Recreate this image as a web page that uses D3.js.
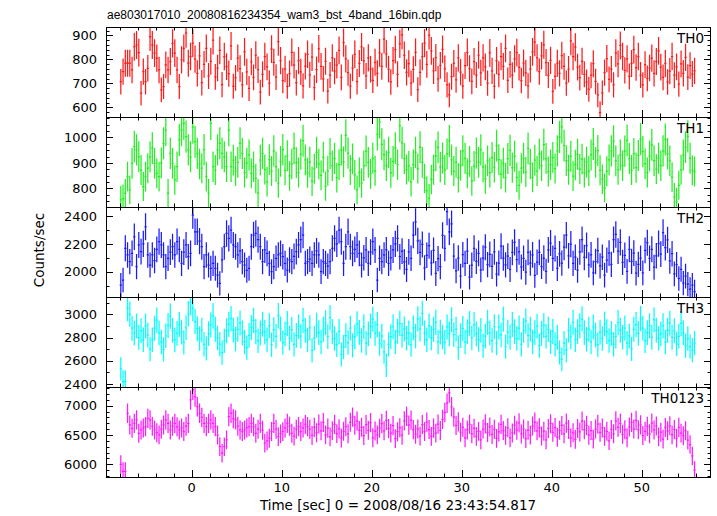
<!DOCTYPE html>
<html><head><meta charset="utf-8">
<script src="https://cdn.jsdelivr.net/npm/d3@7"></script>
<style>
html,body{margin:0;padding:0;background:#fff;}
svg{display:block;}
text{font-family:"DejaVu Sans",sans-serif;fill:#000;}
</style></head>
<body>
<svg id="chart" width="717" height="516"></svg>
<script>
// ---- data (count rate per 0.25 s bin, starting at t = -8 s) ----
const startTime = -8;
const binSize = 0.25;
const xTickLabels = [0, 10, 20, 30, 40, 50];
const panelNames = ["TH0", "TH1", "TH2", "TH3", "TH0123"];

const th0 = [
707,749,784,784,784,756,853,860,828,659,749,707,763,895,860,826,
805,756,673,687,777,756,791,867,826,756,687,798,846,909,784,812,
868,801,742,815,703,779,846,731,792,880,727,764,838,695,812,770,
741,856,688,723,805,762,694,831,748,679,790,725,818,757,664,738,
812,769,701,843,788,726,874,795,712,760,688,741,829,776,703,795,
748,690,772,821,736,809,682,757,844,771,719,792,668,735,806,751,
776,838,725,870,802,745,689,764,821,707,783,852,794,731,806,759,
713,788,742,827,771,884,823,760,706,795,841,738,865,902,817,746,
782,701,758,829,674,746,812,868,779,901,836,752,807,719,775,842,
761,694,652,728,783,715,806,747,689,774,829,762,708,791,735,818,
744,806,769,701,827,752,688,795,738,812,771,846,713,779,734,802,
828,767,712,785,744,690,759,831,872,806,749,815,861,787,735,796,
667,729,784,742,816,771,701,759,877,812,851,768,724,792,738,705,
676,734,782,708,652,578,661,745,803,717,759,694,826,781,858,812,
754,802,729,783,841,766,812,735,694,778,721,764,805,742,791,836,
768,725,783,706,751,812,734,769,697,781,742,808,726,774,739,752];

const th1 = [
755,760,781,846,794,898,964,951,924,872,807,846,879,924,958,898,
859,846,900,977,1029,781,937,898,833,885,990,1029,1055,1003,951,924,
1040,983,937,896,879,952,846,781,1055,885,872,951,977,937,924,885,
1029,885,911,868,902,977,937,862,899,931,859,885,839,781,911,937,
874,826,913,868,947,885,821,906,952,871,928,849,896,957,901,862,
934,987,912,861,903,828,877,941,896,851,922,808,869,936,889,917,
842,893,951,904,1008,938,872,916,853,794,862,821,889,946,902,857,
918,869,1012,1061,973,932,889,941,861,906,958,893,1046,979,917,874,
887,826,893,941,878,962,902,839,791,762,835,873,928,961,884,919,
872,935,986,912,868,903,842,891,947,918,859,906,829,887,938,902,
951,884,837,908,862,921,883,968,913,856,899,842,917,949,881,926,
843,812,879,918,864,957,896,843,911,868,935,889,972,917,866,893,
921,878,947,1002,1041,968,909,873,926,848,892,934,876,915,862,903,
868,931,974,902,948,871,836,802,867,912,947,985,908,873,931,889,
946,988,917,872,936,881,929,993,944,897,862,927,971,909,876,918,
889,947,992,936,908,844,766,748,812,873,931,962,1004,918,871,866];

const th2 = [
1904,1940,2168,2120,2072,2132,2251,2036,2192,2144,2200,2323,2120,
2048,2120,2080,2160,2216,
2192,2120,2036,2096,2140,2180,
2120,2216,2160,2060,2140,
2192,2108,2132,2407,
2287,2287,2220,2180,2036,
2120,2048,2024,2060,2024,1976,1916,
2084,2180,2275,2240,2299,
2192,2180,2120,2150,2072,2048,2010,2024,
2180,2263,2275,2230,
2180,2072,2156,2132,2060,2000,
2036,2096,2120,2132,2108,2060,2012,
2084,2072,2110,2144,2192,2230,2263,
2060,2072,2090,2060,2120,2150,2120,2000,
2072,2060,2040,2072,2168,2240,2200,2299,
2216,2060,2180,2287,
2180,2132,2160,2192,2132,2048,2100,2156,2060,2140,2216,
2156,1940,
2096,2072,2120,2156,2060,2100,2156,2200,2240,2108,
2148,2071,2016,2142,2096,2263,2358,2221,2139,2196,2028,2118,2187,2064,2153,
1987,2094,2036,2261,2168,2432,2287,2343,2112,2006,2098,1968,2122,2059,2148,1961,
2047,2168,2074,2132,2013,2098,2176,2051,2124,2038,2142,1982,2061,2183,2098,2049,
2112,2016,2138,2211,2087,2143,2034,2096,1996,2139,2062,2121,1974,2068,2139,2037,
2098,2003,2157,2206,2096,2167,2023,2128,2062,2176,2262,2114,2198,2059,2104,2011,
2143,2231,2102,2188,2049,2121,1991,2073,2151,2042,2104,1975,2083,2134,2052,2231,
2268,2148,2211,2067,2118,2002,2161,2074,2133,1989,2052,2097,1991,2153,2208,2096,
2161,2032,2114,2202,2126,2281,2173,2228,2077,2129,1984,2051,1951,2017,1918,1968,
1911,1874,1903,1856];

const th3 = [
2530,2420,2420,3050,3000,2880,2840,2900,2800,2860,2780,2900,2820,2700,2780,2880,
2950,2840,2762,2698,2815,2903,2984,2861,2779,2836,2912,2847,2758,2884,3004,3100,
3052,2938,2876,2791,2864,2742,2706,2833,2908,2987,2871,2796,2743,2669,2771,2858,
2913,2962,2864,2788,2871,2925,2841,2762,2712,2818,2887,2948,2852,2773,2839,2914,
2847,2781,2902,2738,2868,2811,2989,2874,2756,2832,2921,2795,2869,2741,2818,2893,
2812,2948,2861,2779,2884,2689,2794,2906,2843,2762,2871,2927,2808,2971,2852,2791,
2738,2852,2654,2718,2816,2757,2881,2732,2806,2918,2845,2774,2893,2752,2831,2899,
2958,2836,2911,2748,2812,2677,2562,2741,2808,2893,2761,2853,2922,2818,2874,2793,
2841,2739,2884,2812,2961,2873,3008,2839,2781,2902,2796,2871,2931,2762,2846,2805,
2759,2891,2832,2953,2824,2871,2713,2816,2878,2762,2851,2921,2797,2911,2831,2782,
2862,2731,2812,2931,2841,2774,2893,2752,2891,2822,2958,2721,2847,2801,2912,2851,
2791,2882,2741,2861,2941,2819,2872,2761,2842,2898,2731,2836,2904,2811,2871,2764,
2852,2741,2801,2672,2611,2752,2691,2862,2806,2931,2781,2851,2902,2961,2843,2786,
2871,2762,2891,2821,2738,2846,2792,2917,2851,2774,2836,2741,2811,2929,2861,2803,
2882,2751,2814,2702,2871,2911,2836,2962,2881,2773,2842,2901,2801,2951,2862,2792,
2831,2901,2761,2862,2923,2801,2857,2746,2811,2921,2842,2731,2791,2722,2690,2752];

const th0123 = [
6000,5880,5880,
6871,6672,6615,6700,6757,
6530,6587,6620,6643,6785,6757,6650,6587,
6540,6502,6600,6672,6757,6700,6587,6650,
6700,6640,6587,6620,6560,6650,6700,7098,
7269,7150,6984,6871,6800,6700,
6643,6700,6757,6700,6643,6500,6302,
6189,6300,6416,6814,6871,6780,
6757,6650,6587,6560,6587,6620,6643,
6700,6640,6530,6600,6700,6580,6360,6400,6445,
6560,6700,6600,6473,6520,6558,6620,6700,6650,
6530,6480,6600,6643,6560,6620,6680,6643,
6600,6492,6631,6540,6688,6572,6714,6503,6618,6469,6572,6681,6524,6607,6448,6563,
6642,6521,6718,6804,6667,6736,6578,6632,6491,6679,6581,6712,6453,6568,6502,6617,
6694,6571,6748,6609,6532,6661,6438,6556,6623,6497,6742,6821,6668,6753,6592,6514,
6603,6482,6677,6558,6721,6594,6476,6618,6532,6687,6579,6768,6884,7043,7221,6982,
6807,6663,6724,6548,6632,6452,6587,6683,6521,6614,6478,6562,6418,6601,6689,6543,
6638,6509,6597,6442,6553,6681,6576,6493,6624,6451,6536,6667,6582,6706,6518,6603,
6437,6582,6498,6653,6721,6571,6622,6483,6566,6418,6612,6693,6547,6628,6462,6581,
6663,6521,6704,6596,6452,6538,6427,6612,6553,6738,6591,6664,6496,6577,6431,6602,
6684,6547,6621,6478,6563,6402,6595,6521,6741,6632,6698,6512,6589,6453,6638,6716,
6601,6752,6588,6673,6491,6563,6647,6521,6702,6586,6654,6469,6548,6431,6629,6571,
6658,6503,6592,6447,6631,6532,6488,6573,6412,6338,6142,5900];

const yTicks0 = [600, 700, 800, 900];
const yTicks1 = [800, 900, 1000];
const yTicks2 = [2000, 2200, 2400];
const yTicks3 = [2400, 2600, 2800, 3000];
const yTicks4 = [6000, 6500, 7000];

// ---- layout / style ----
const L = 106, R = 711, panelTop = 27, panelH = 90;
const panels = [
  {name: panelNames[0], data: th0,    color: "#ff1a1a", domain: [560, 935],   ticks: yTicks0, minor: 20},
  {name: panelNames[1], data: th1,    color: "#22ee22", domain: [727, 1080],  ticks: yTicks1, minor: 25},
  {name: panelNames[2], data: th2,    color: "#1a1aff", domain: [1818, 2465], ticks: yTicks2, minor: 100},
  {name: panelNames[3], data: th3,    color: "#00ffff", domain: [2374, 3149], ticks: yTicks3, minor: 100},
  {name: panelNames[4], data: th0123, color: "#ff1aff", domain: [5783, 7320], ticks: yTicks4, minor: 100}
];

const svg = d3.select("#chart");
const x = d3.scaleLinear().domain([-9.52, 57.7]).range([L, R]);
const xMinor = d3.range(-8, 58, 2);

svg.append("text").attr("x", 107).attr("y", 19)
  .style("font-family", "'Liberation Sans', Arial, sans-serif").style("font-size", "12px")
  .text("ae803017010_20080816234354_wam3_bst_4band_16bin.qdp");

const defs = svg.append("defs");

panels.forEach((p, i) => {
  const top = panelTop + i * panelH, bot = top + panelH;
  const y = d3.scaleLinear().domain(p.domain).range([bot, top]);
  const g = svg.append("g");
  const cid = "clip" + i;
  defs.append("clipPath").attr("id", cid).append("rect")
    .attr("x", L).attr("y", top).attr("width", R - L).attr("height", panelH);

  // data: bin bar + Poisson error bar
  const dg = g.append("g").attr("clip-path", `url(#${cid})`)
    .attr("stroke", p.color).attr("stroke-width", 1.25).attr("fill", "none");
  let d = "";
  p.data.forEach((v, k) => {
    const t0 = startTime + k * binSize, tc = t0 + binSize / 2, t1 = t0 + binSize;
    const err = Math.sqrt(v * binSize) / binSize;
    d += `M${x(t0)},${y(v)}H${x(t1)}M${x(tc)},${y(v - err)}V${y(v + err)}`;
  });
  dg.append("path").attr("d", d);

  // ticks
  const tg = g.append("g").attr("stroke", "#000").attr("stroke-width", 1);
  const yMinorVals = d3.range(Math.ceil(p.domain[0] / p.minor) * p.minor, p.domain[1], p.minor);
  yMinorVals.forEach(v => {
    const major = p.ticks.includes(v);
    const len = major ? 7 : 3.5;
    const yy = Math.round(y(v)) + 0.5;
    tg.append("line").attr("x1", L).attr("x2", L + len).attr("y1", yy).attr("y2", yy);
    tg.append("line").attr("x1", R).attr("x2", R - len).attr("y1", yy).attr("y2", yy);
  });
  xMinor.forEach(t => {
    const major = t % 10 === 0;
    const len = major ? 7 : 3.5;
    const xx = Math.round(x(t)) + 0.5;
    tg.append("line").attr("x1", xx).attr("x2", xx).attr("y1", top).attr("y2", top + len);
    tg.append("line").attr("x1", xx).attr("x2", xx).attr("y1", bot).attr("y2", bot - len);
  });

  g.append("rect").attr("x", L + 0.5).attr("y", top + 0.5).attr("width", R - L - 1).attr("height", panelH)
    .attr("fill", "none").attr("stroke", "#000").attr("stroke-width", 1);

  p.ticks.forEach(v => {
    g.append("text").attr("x", 97).attr("y", y(v)).attr("dy", "0.36em")
      .attr("text-anchor", "end").style("font-size", "13px").text(v);
  });

  g.append("text").attr("x", 704).attr("y", top + 15.5).attr("text-anchor", "end")
    .style("font-size", "13.5px").text(p.name);

  if (i === panels.length - 1) {
    xTickLabels.forEach(t => {
      g.append("text").attr("x", x(t)).attr("y", bot + 15).attr("text-anchor", "middle")
        .style("font-size", "13px").text(t);
    });
  }
});

svg.append("text").attr("x", 398).attr("y", 510).attr("text-anchor", "middle")
  .style("font-size", "13.5px").text("Time [sec] 0 = 2008/08/16 23:43:54.817");
svg.append("text").attr("transform", "translate(44,250) rotate(-90)").attr("text-anchor", "middle")
  .style("font-size", "13.5px").text("Counts/sec");
</script>
</body></html>
